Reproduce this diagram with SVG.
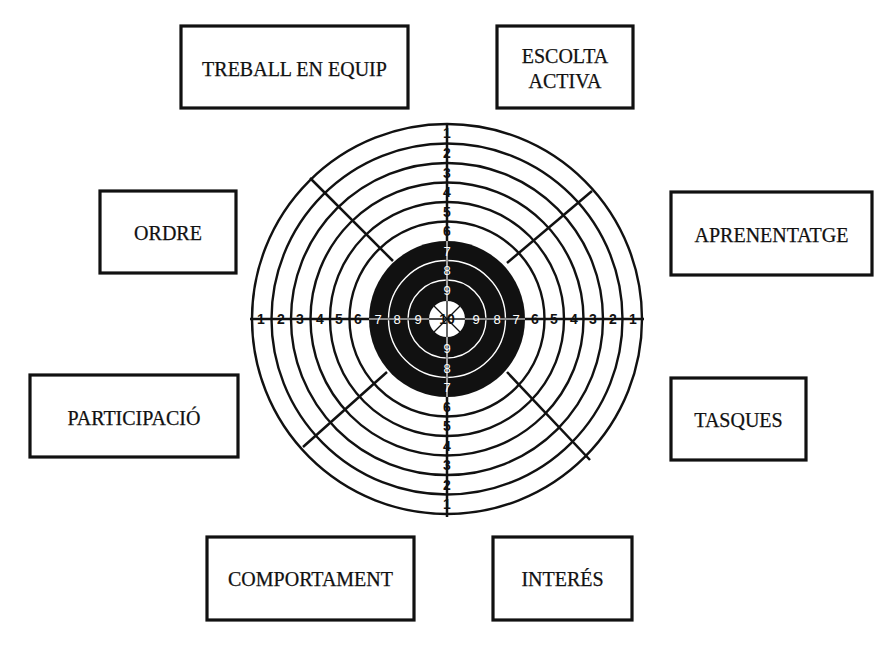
<svg xmlns="http://www.w3.org/2000/svg" width="894" height="646" viewBox="0 0 894 646">
<style>
.box{fill:#fff;stroke:#111;stroke-width:3.2}
.lbl{font-family:"Liberation Serif","Times New Roman",serif;font-size:20px;fill:#111;text-anchor:middle;stroke:#111;stroke-width:0.25}
.ring{fill:none;stroke:#111;stroke-width:2.4}
.wring{fill:none;stroke:#fff;stroke-width:1.4}
.num{font-family:"Liberation Sans",Arial,sans-serif;font-size:14px;font-weight:bold;fill:#111;text-anchor:middle;dominant-baseline:central}
.wnum{font-family:"Liberation Sans",Arial,sans-serif;font-size:13px;fill:#fff;text-anchor:middle;dominant-baseline:central}
.ax{stroke:#111;stroke-width:2.5}
</style>
<rect width="894" height="646" fill="#fff"/>

<g id="target">
  <g id="rings">
    <circle class="ring" cx="447" cy="319" r="195"/>
    <circle class="ring" cx="447" cy="319" r="175.5"/>
    <circle class="ring" cx="447" cy="319" r="156"/>
    <circle class="ring" cx="447" cy="319" r="136.5"/>
    <circle class="ring" cx="447" cy="319" r="117"/>
    <circle class="ring" cx="447" cy="319" r="97.5"/>
    <circle cx="447" cy="319" r="78" fill="#111"/>
    <circle class="wring" cx="447" cy="319" r="58.5"/>
    <circle class="wring" cx="447" cy="319" r="39"/>
  </g>
  <g id="axes">
    <line class="ax" x1="250" y1="319" x2="644" y2="319"/>
    <line class="ax" x1="447" y1="123" x2="447" y2="517"/>
    <line stroke="#fff" stroke-width="1.2" x1="369" y1="319" x2="525" y2="319"/>
    <line stroke="#fff" stroke-width="1.2" x1="447" y1="241" x2="447" y2="397"/>
    <line class="ax" x1="310" y1="178" x2="393" y2="261"/>
    <line class="ax" x1="592" y1="191" x2="507" y2="263"/>
    <line class="ax" x1="303" y1="447" x2="387" y2="372"/>
    <line class="ax" x1="507" y1="372" x2="590" y2="460"/>
  </g>
  <g id="center">
    <circle cx="447" cy="319" r="18" fill="#fff"/>
    <g stroke="#111" stroke-width="1.3">
      <line x1="429" y1="319" x2="465" y2="319"/>
      <line x1="447" y1="301" x2="447" y2="337"/>
      <line x1="434" y1="306" x2="460" y2="332"/>
      <line x1="460" y1="306" x2="434" y2="332"/>
    </g>
    <text class="num" x="447" y="319" font-size="10">10</text>
  </g>
  <g id="numbers">
    <text class="num" x="261" y="319">1</text>
    <text class="num" x="281" y="319">2</text>
    <text class="num" x="300" y="319">3</text>
    <text class="num" x="320" y="319">4</text>
    <text class="num" x="339" y="319">5</text>
    <text class="num" x="358" y="319">6</text>
    <text class="wnum" x="378" y="319">7</text>
    <text class="wnum" x="397" y="319">8</text>
    <text class="wnum" x="418" y="319">9</text>
    <text class="wnum" x="476" y="319">9</text>
    <text class="wnum" x="497" y="319">8</text>
    <text class="wnum" x="516" y="319">7</text>
    <text class="num" x="535" y="319">6</text>
    <text class="num" x="554" y="319">5</text>
    <text class="num" x="574" y="319">4</text>
    <text class="num" x="593" y="319">3</text>
    <text class="num" x="613" y="319">2</text>
    <text class="num" x="633" y="319">1</text>
    <text class="num" x="447" y="133">1</text>
    <text class="num" x="447" y="153">2</text>
    <text class="num" x="447" y="173">3</text>
    <text class="num" x="447" y="192">4</text>
    <text class="num" x="447" y="212">5</text>
    <text class="num" x="447" y="231">6</text>
    <text class="wnum" x="447" y="251">7</text>
    <text class="wnum" x="447" y="270">8</text>
    <text class="wnum" x="447" y="290">9</text>
    <text class="wnum" x="447" y="348">9</text>
    <text class="wnum" x="447" y="368">8</text>
    <text class="wnum" x="447" y="387">7</text>
    <text class="num" x="447" y="407">6</text>
    <text class="num" x="447" y="426">5</text>
    <text class="num" x="447" y="446">4</text>
    <text class="num" x="447" y="465">3</text>
    <text class="num" x="447" y="485">2</text>
    <text class="num" x="447" y="504">1</text>
  </g>
</g>

<g id="treball-en-equip">
  <rect class="box" x="181" y="26" width="227" height="82"/>
  <text class="lbl" x="294.5" y="76">TREBALL EN EQUIP</text>
</g>
<g id="escolta-activa">
  <rect class="box" x="497" y="26" width="136" height="82"/>
  <text class="lbl" x="565" y="63">ESCOLTA</text>
  <text class="lbl" x="565" y="88">ACTIVA</text>
</g>
<g id="ordre">
  <rect class="box" x="100" y="191" width="136" height="82"/>
  <text class="lbl" x="168" y="240">ORDRE</text>
</g>
<g id="aprenentatge">
  <rect class="box" x="671" y="192" width="201" height="83"/>
  <text class="lbl" x="771.5" y="242">APRENENTATGE</text>
</g>
<g id="participacio">
  <rect class="box" x="30" y="375" width="208" height="82"/>
  <text class="lbl" x="134" y="425">PARTICIPACIÓ</text>
</g>
<g id="tasques">
  <rect class="box" x="671" y="378" width="135" height="82"/>
  <text class="lbl" x="738.5" y="427">TASQUES</text>
</g>
<g id="comportament">
  <rect class="box" x="207" y="537" width="207" height="83"/>
  <text class="lbl" x="310.5" y="586">COMPORTAMENT</text>
</g>
<g id="interes">
  <rect class="box" x="493" y="537" width="139" height="83"/>
  <text class="lbl" x="562.5" y="586">INTERÉS</text>
</g>
</svg>
